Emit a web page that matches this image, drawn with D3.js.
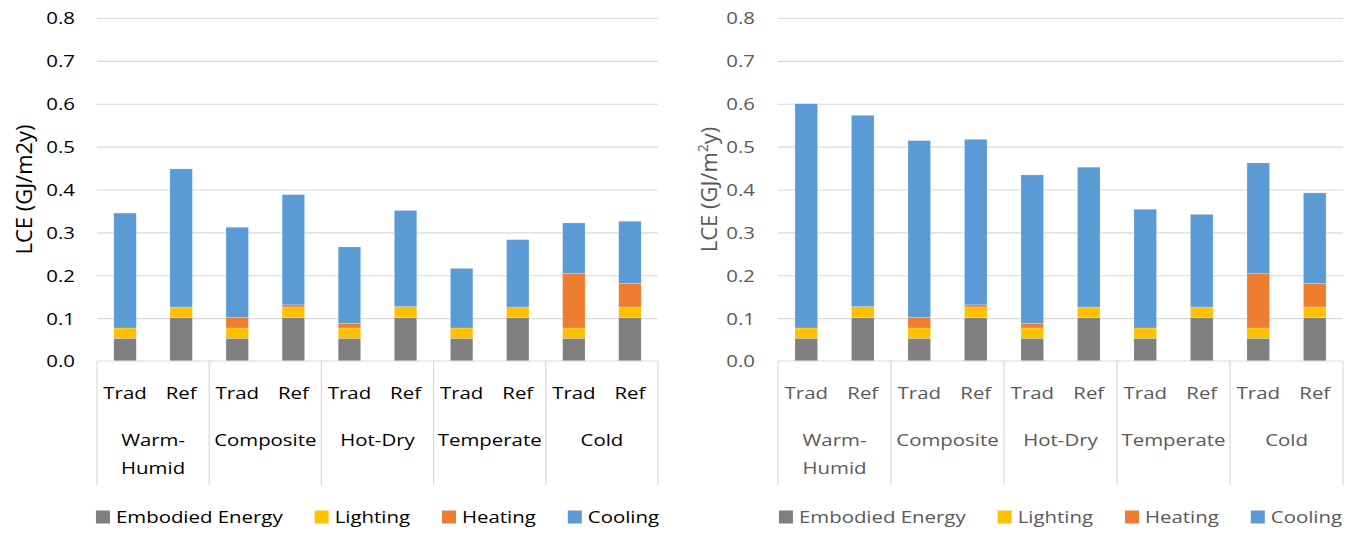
<!DOCTYPE html>
<html>
<head>
<meta charset="utf-8">
<script src="https://cdn.jsdelivr.net/npm/d3@7"></script>
<style>
  html, body { margin: 0; padding: 0; background: #fff; }
  svg { display: block; }
  text { font-family: "Open Sans", "Noto Sans", sans-serif; }
</style>
</head>
<body>
<svg id="chart" width="1354" height="533"></svg>
<script>
// ---------- data ----------
const groups = ["Warm-Humid", "Composite", "Hot-Dry", "Temperate", "Cold"];
const groupLabelLines = [["Warm-", "Humid"], ["Composite"], ["Hot-Dry"], ["Temperate"], ["Cold"]];
const subs = ["Trad", "Ref"];
const seriesNames = ["Embodied Energy", "Lighting", "Heating", "Cooling"];
const seriesColors = ["#7f7f7f", "#ffc000", "#ed7d31", "#5b9bd5"];
const yTicks = [0, 0.1, 0.2, 0.3, 0.4, 0.5, 0.6, 0.7, 0.8];

// order: WH-Trad, WH-Ref, Comp-Trad, Comp-Ref, HD-Trad, HD-Ref, Temp-Trad, Temp-Ref, Cold-Trad, Cold-Ref
const leftEmbodied = [0.053, 0.101, 0.053, 0.101, 0.053, 0.101, 0.053, 0.101, 0.053, 0.101];
const leftLighting = [0.024, 0.025, 0.024, 0.025, 0.024, 0.026, 0.024, 0.025, 0.024, 0.025];
const leftHeating  = [0, 0, 0.025, 0.005, 0.011, 0, 0, 0, 0.127, 0.055];
const leftCooling  = [0.268, 0.322, 0.210, 0.257, 0.178, 0.224, 0.139, 0.157, 0.118, 0.145];

const rightEmbodied = [0.053, 0.101, 0.053, 0.101, 0.053, 0.101, 0.053, 0.101, 0.053, 0.101];
const rightLighting = [0.024, 0.026, 0.024, 0.025, 0.024, 0.025, 0.024, 0.025, 0.024, 0.025];
const rightHeating  = [0, 0, 0.025, 0.005, 0.011, 0, 0, 0, 0.127, 0.055];
const rightCooling  = [0.523, 0.446, 0.412, 0.386, 0.346, 0.326, 0.277, 0.216, 0.258, 0.211];

// ---------- drawing ----------
const SX = 1.2;           // horizontal stretch of the reference text
const FS = 17;
const svg = d3.select("#chart");

function buildRows(emb, lig, hea, coo) {
  const rows = [];
  groups.forEach((g, gi) => {
    subs.forEach((s, si) => {
      const i = gi * 2 + si;
      rows.push({ group: g, sub: s,
        "Embodied Energy": emb[i], "Lighting": lig[i], "Heating": hea[i], "Cooling": coo[i] });
    });
  });
  return rows;
}

function stretchedText(parent, x, y, str, anchor, color, size) {
  return parent.append("text")
    .attr("transform", `translate(${x},${y}) scale(${SX},1)`)
    .attr("text-anchor", anchor)
    .attr("dy", "0.35em")
    .attr("fill", color)
    .style("font-size", (size || FS) + "px")
    .text(str);
}

function drawPanel(cfg) {
  const g = svg.append("g");
  const x0 = d3.scaleBand().domain(groups).range([cfg.left, cfg.right]).paddingInner(0).paddingOuter(0);
  const x1 = d3.scaleBand().domain(subs).range([0, x0.bandwidth()]).paddingInner(0.6).paddingOuter(0.3);
  const y = d3.scaleLinear().domain([0, 0.8]).range([cfg.bottom, cfg.top]);

  // gridlines
  const grid = g.append("g").attr("transform", `translate(${cfg.left},0)`)
    .call(d3.axisLeft(y).tickValues(yTicks.slice(1)).tickSize(-(cfg.right - cfg.left)).tickFormat(""));
  grid.select(".domain").remove();
  grid.selectAll("line").attr("stroke", "#d9d9d9").attr("stroke-width", 1.2);

  // y tick labels
  const ya = g.append("g").attr("transform", `translate(${cfg.left},0)`)
    .call(d3.axisLeft(y).tickValues(yTicks).tickSize(0).tickFormat(d3.format(".1f")));
  ya.select(".domain").remove();
  ya.selectAll("text")
    .attr("x", null).attr("dy", "0.35em")
    .attr("transform", `translate(${-(cfg.left - cfg.labelRight)},0) scale(${SX},1)`)
    .attr("fill", cfg.color)
    .style("font-size", FS + "px")
    .style("font-family", "'Open Sans', sans-serif");

  // bars
  const rows = buildRows(...cfg.data);
  const stacked = d3.stack().keys(seriesNames)(rows);
  g.append("g").selectAll("g").data(stacked).join("g")
    .attr("fill", (d, i) => seriesColors[i])
    .selectAll("rect").data(d => d).join("rect")
      .attr("x", d => x0(d.data.group) + x1(d.data.sub))
      .attr("width", x1.bandwidth())
      .attr("y", d => y(d[1]))
      .attr("height", d => Math.max(0, y(d[0]) - y(d[1])))
      .attr("stroke", "#ffffff").attr("stroke-opacity", 0.35).attr("stroke-width", 0.6);

  // category axis line and group separators
  g.append("line").attr("x1", cfg.left).attr("x2", cfg.right)
    .attr("y1", y(0)).attr("y2", y(0)).attr("stroke", "#d9d9d9").attr("stroke-width", 1.2);
  const bounds = groups.map(d => x0(d)).concat([cfg.right]);
  g.append("g").selectAll("line").data(bounds).join("line")
    .attr("x1", d => d).attr("x2", d => d)
    .attr("y1", y(0)).attr("y2", 485)
    .attr("stroke", "#d9d9d9").attr("stroke-width", 1.2);

  // sub labels
  groups.forEach((gr, gi) => {
    subs.forEach(s => {
      stretchedText(g, x0(gr) + x1(s) + x1.bandwidth() / 2, 393, s, "middle", cfg.color);
    });
    groupLabelLines[gi].forEach((line, li) => {
      stretchedText(g, x0(gr) + x0.bandwidth() / 2, 440 + li * 28, line, "middle", cfg.color);
    });
  });

  // y title
  const t = g.append("text")
    .attr("transform", `translate(${cfg.titleX},${(cfg.top + cfg.bottom) / 2}) rotate(-90)`)
    .attr("text-anchor", "middle").attr("dy", "0.35em")
    .attr("fill", cfg.color).style("font-size", "22px");
  if (cfg.superscript) {
    t.append("tspan").text("LCE (GJ/m");
    t.append("tspan").text("2").attr("baseline-shift", "super").style("font-size", "14px");
    t.append("tspan").text("y)");
  } else {
    t.text("LCE (GJ/m2y)");
  }

  // legend
  const lg = g.append("g");
  const sq = 14, gapT = 6, gapItem = 32;
  const items = seriesNames.map((n, i) => {
    const it = lg.append("g");
    it.append("rect").attr("width", sq).attr("height", 13).attr("y", -6.5).attr("fill", seriesColors[i]);
    const tx = it.append("text")
      .attr("transform", `translate(${sq + gapT},0) scale(${SX},1)`)
      .attr("dy", "0.35em").attr("fill", cfg.color).style("font-size", FS + "px").text(n);
    const w = sq + gapT + tx.node().getComputedTextLength() * SX;
    return { it, w };
  });
  const total = d3.sum(items, d => d.w) + gapItem * (items.length - 1);
  let cx = (cfg.left + cfg.right) / 2 - total / 2;
  items.forEach(d => {
    d.it.attr("transform", `translate(${cx},517)`);
    cx += d.w + gapItem;
  });
}

drawPanel({ left: 97, right: 658, top: 18, bottom: 361, labelRight: 75, titleX: 24,
  color: "#000000", superscript: false,
  data: [leftEmbodied, leftLighting, leftHeating, leftCooling] });
drawPanel({ left: 778, right: 1343, top: 18, bottom: 361, labelRight: 755, titleX: 709,
  color: "#595959", superscript: true,
  data: [rightEmbodied, rightLighting, rightHeating, rightCooling] });
</script>
</body>
</html>
